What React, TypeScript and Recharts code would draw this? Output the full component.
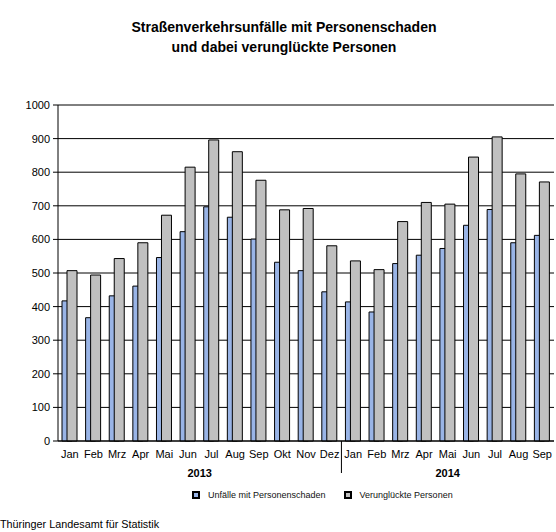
import { BarChart, Bar, XAxis, YAxis, CartesianGrid } from "recharts"

const months = ["Jan","Feb","Mrz","Apr","Mai","Jun","Jul","Aug","Sep","Okt","Nov","Dez","Jan","Feb","Mrz","Apr","Mai","Jun","Jul","Aug","Sep"]
const years = ["2013", "2014"]
const monthsPerYear = [12, 9]
const unfaelle = [417,367,432,461,546,623,697,666,601,532,507,444,414,384,528,553,573,642,689,590,612]
const verunglueckte = [507,494,543,590,672,815,896,861,776,688,692,581,536,510,653,710,705,845,905,795,771]
const yTicks = [0,100,200,300,400,500,600,700,800,900,1000]

const W = 556
const H = 532
const M = { top: 105, right: 2, bottom: 0, left: 0 }
const Y_W = 58
const X_H = 91
const BLUE = "#99b4e6"
const GRAY = "#c0c0c0"
const FONT = "'Liberation Sans', Arial, sans-serif"

// one row per month, year kept so the two "Jan" are distinct
const yearOf: string[] = []
years.forEach((y, i) => { for (let k = 0; k < monthsPerYear[i]; k++) yearOf.push(y) })
const data = months.map((m, i) => ({ key: `${m} ${yearOf[i]}`, month: m, unf: unfaelle[i], ver: verunglueckte[i] }))

const band = (W - M.left - M.right - Y_W) / months.length

function MonthTick(props: any) {
  const { x, y, index } = props
  const d = data[index]
  const out: any[] = [
    <text key="m" x={x} y={y + 17} textAnchor="middle" fontSize={11} fontFamily={FONT} fill="#000">{d.month}</text>,
  ]
  // year labels centred under their group, divider at group start
  let start = 0
  years.forEach((yr, gi) => {
    const n = monthsPerYear[gi]
    const mid = start + (n - 1) / 2
    if (index === Math.floor(mid)) {
      out.push(<text key={"y" + yr} x={x + (mid - index) * band} y={y + 36} textAnchor="middle" fontSize={11} fontWeight="bold" fontFamily={FONT} fill="#000">{yr}</text>)
    }
    if (gi > 0 && index === start) {
      out.push(<line key={"s" + yr} x1={x - band / 2} x2={x - band / 2} y1={y} y2={y + 32} stroke="#000" strokeWidth={1} />)
    }
    start += n
  })
  return <g>{out}</g>
}

function LegendBox({ color, label }: { color: string; label: string }) {
  return (
    <span style={{ display: "inline-flex", alignItems: "center", marginRight: 18 }}>
      <span style={{ width: 4, height: 4, border: "2px solid #000", background: color, marginRight: 8, display: "inline-block" }} />
      <span>{label}</span>
    </span>
  )
}

export default function App() {
  return (
    <div style={{ position: "absolute", left: 0, top: 0, width: W, height: H, background: "#fff", fontFamily: FONT }}>
      <div style={{ position: "absolute", left: 0, top: 17, width: 568, textAlign: "center", fontSize: 14, fontWeight: "bold", lineHeight: "20px", color: "#000" }}>
        Straßenverkehrsunfälle mit Personenschaden<br />und dabei verunglückte Personen
      </div>
      <BarChart width={W} height={H} data={data} margin={M} barSize={10} barGap={-5} barCategoryGap={0}>
        <CartesianGrid vertical={false} stroke="#000" strokeOpacity={1} />
        <XAxis dataKey="key" height={X_H} tick={<MonthTick />} tickLine={false} tickSize={0} tickMargin={0} interval={0} axisLine={{ stroke: "#000" }} />
        <YAxis width={Y_W} domain={[0, 1000]} ticks={yTicks} interval={0} tickSize={5} tickMargin={3} tickLine={{ stroke: "#000" }} axisLine={{ stroke: "#000" }} tick={{ fontSize: 11, fill: "#000", fontFamily: FONT }} />
        <YAxis yAxisId="r" orientation="right" width={0} domain={[0, 1000]} tick={false} tickLine={false} axisLine={{ stroke: "#000" }} />
        <Bar dataKey="unf" name="Unfälle mit Personenschaden" fill={BLUE} stroke="#000" strokeWidth={1} isAnimationActive={false} />
        <Bar dataKey="ver" name="Verunglückte Personen" fill={GRAY} stroke="#000" strokeWidth={1} isAnimationActive={false} />
      </BarChart>
      <div style={{ position: "absolute", left: 192, top: 490, fontSize: 9, color: "#111", whiteSpace: "nowrap", display: "flex" }}>
        <LegendBox color={BLUE} label="Unfälle mit Personenschaden" />
        <LegendBox color={GRAY} label="Verunglückte Personen" />
      </div>
      <div style={{ position: "absolute", left: 0, top: 518, fontSize: 10.8, color: "#000", whiteSpace: "nowrap" }}>
        Thüringer Landesamt für Statistik
      </div>
    </div>
  )
}
